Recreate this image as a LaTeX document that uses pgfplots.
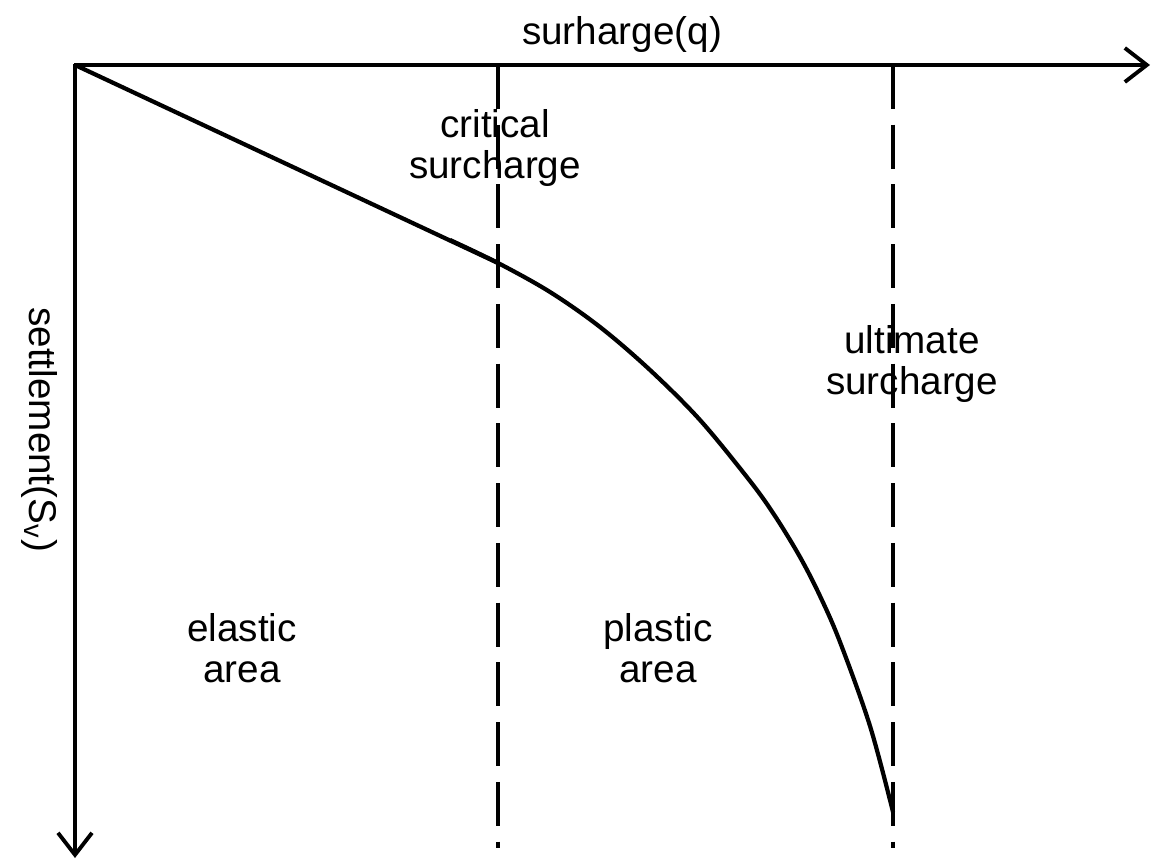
\documentclass[border=0pt]{standalone}
\usepackage{fontspec}
\setmainfont{Liberation Sans}
\usepackage{pgfplots}
\pgfplotsset{compat=1.18}
\usetikzlibrary{arrows.meta}

% pixel-like coordinates, y grows downward
\pgfplotstableread{
x   y
75  65
498 263
}\linear
\pgfplotstableread{
x   y
450 240
498 263
550 292
600 327
650 370
700 420
750 481
775 516
800 557
820 596
840 642
870 726
893 812
}\plastic

\begin{document}
\begin{tikzpicture}[font=\fontsize{11}{11.8}\selectfont]
\begin{axis}[
  width=11.71cm, height=8.66cm, scale only axis,
  xmin=0, xmax=1171, ymin=0, ymax=866, y dir=reverse,
  hide axis, clip=false,
]
\path (rel axis cs:0,0) rectangle (rel axis cs:1,1);
% axes
\addplot[black, line width=1.2pt, -{Straight Barb[length=2.2mm,width=3.4mm,line width=1.1pt]}]
  coordinates {(74,65) (1150,65)};
\addplot[black, line width=1.2pt, -{Straight Barb[length=2.2mm,width=3.4mm,line width=1.1pt]}]
  coordinates {(75,64) (75,858)};
% critical / ultimate surcharge
\addplot[black, line width=1.2pt, dash pattern=on 12.5pt off 4.5pt]
  coordinates {(498,65) (498,848)};
\addplot[black, line width=1.2pt, dash pattern=on 12.5pt off 4.5pt]
  coordinates {(893,65) (893,848)};
% load-settlement curve
\addplot[black, line width=1.2pt, line join=round] table {\linear};
\addplot[black, line width=1.2pt, smooth, tension=0.55] table {\plastic};

\node at (axis cs:622,35) {surharge(q)};
\node[align=center] at (axis cs:495,148) {critical\\surcharge};
\node[align=center] at (axis cs:912,364) {ultimate\\surcharge};
\node[align=center] at (axis cs:242,648) {elastic\\area};
\node[align=center] at (axis cs:658,648) {plastic\\area};
\node[rotate=-90] at (axis cs:40,430) {settlement(S\textsubscript{v})};
\end{axis}
\end{tikzpicture}
\end{document}
